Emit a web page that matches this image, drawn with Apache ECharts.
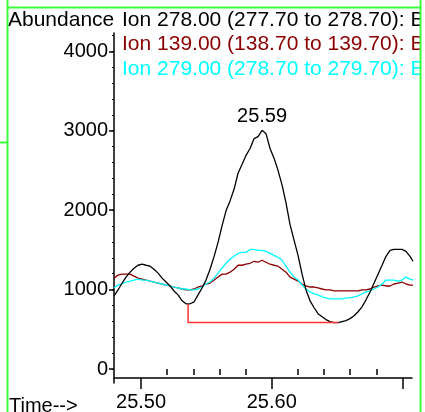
<!DOCTYPE html>
<html>
<head>
<meta charset="utf-8">
<script src="https://cdn.jsdelivr.net/npm/echarts@6/dist/echarts.min.js"></script>
<style>
html, body { margin: 0; padding: 0; background: #fff; }
#chart { width: 425px; height: 412px; }
</style>
</head>
<body>
<div id="chart"></div>
<script>
// retention time (min)
const times = [
	25.4793, 25.4824, 25.4855, 25.4885, 25.4916, 25.4946, 25.4977, 25.5008, 25.5038, 25.5069,
	25.5099, 25.5130, 25.5161, 25.5191, 25.5222, 25.5252, 25.5283, 25.5314, 25.5344, 25.5375,
	25.5406, 25.5436, 25.5467, 25.5497, 25.5528, 25.5559, 25.5589, 25.5620, 25.5650, 25.5681,
	25.5712, 25.5742, 25.5773, 25.5803, 25.5834, 25.5865, 25.5895, 25.5926, 25.5956, 25.5987,
	25.6018, 25.6048, 25.6079, 25.6109, 25.6140, 25.6171, 25.6201, 25.6232, 25.6262, 25.6293,
	25.6324, 25.6354, 25.6385, 25.6415, 25.6446, 25.6477, 25.6507, 25.6538, 25.6568, 25.6599,
	25.6630, 25.6660, 25.6691, 25.6721, 25.6752, 25.6783, 25.6813, 25.6844, 25.6874, 25.6905,
	25.6935, 25.6966, 25.6997, 25.7027, 25.7058, 25.7081,
]

// Ion 278.00
const ion278 = [
	921, 996, 1083, 1158, 1220, 1270, 1307, 1320, 1307, 1295,
	1257, 1208, 1145, 1096, 1046, 984, 934, 859, 822, 822,
	847, 934, 1021, 1121, 1257, 1419, 1594, 1805, 1992, 2117,
	2266, 2465, 2577, 2689, 2776, 2901, 2926, 3005, 2963, 2776,
	2652, 2502, 2316, 2092, 1818, 1619, 1432, 1195, 996, 859,
	772, 697, 660, 623, 598, 585, 585, 598, 610, 635,
	672, 722, 784, 872, 971, 1083, 1195, 1307, 1419, 1494,
	1506, 1506, 1506, 1482, 1419, 1357,
]

// Ion 139.00
const ion139 = [
	1145, 1183, 1195, 1195, 1195, 1170, 1145, 1133, 1121, 1108,
	1096, 1083, 1071, 1058, 1046, 1033, 1021, 1008, 996, 996,
	1008, 1033, 1046, 1071, 1083, 1121, 1158, 1195, 1195, 1220,
	1257, 1307, 1307, 1320, 1332, 1357, 1345, 1370, 1345, 1320,
	1307, 1295, 1257, 1220, 1158, 1133, 1108, 1071, 1046, 1033,
	1033, 1021, 1008, 996, 996, 984, 984, 984, 984, 984,
	984, 984, 996, 996, 1008, 1033, 1046, 1058, 1046, 1046,
	1071, 1083, 1096, 1071, 1058, 1058,
]

// Ion 279.00
const ion279 = [
	1021, 1058, 1071, 1096, 1108, 1121, 1133, 1121, 1121, 1108,
	1096, 1083, 1071, 1058, 1046, 1033, 1021, 1008, 1008, 996,
	996, 1008, 1033, 1071, 1096, 1145, 1208, 1270, 1332, 1382,
	1419, 1457, 1469, 1469, 1506, 1506, 1494, 1494, 1482, 1457,
	1432, 1407, 1370, 1295, 1220, 1158, 1121, 1058, 1008, 971,
	946, 934, 909, 896, 884, 884, 884, 884, 896, 896,
	909, 921, 946, 971, 984, 1008, 1033, 1071, 1121, 1121,
	1121, 1108, 1121, 1158, 1133, 1121,
]

// integration baseline under the peak
const baseTimes = [25.536, 25.536, 25.651]
const baseValues = [822, 585, 585]

const seriesNames = [
	"Ion 278.00 (277.70 to 278.70): B",
	"Ion 139.00 (138.70 to 139.70): B",
	"Ion 279.00 (278.70 to 279.70): B",
]

const xLabelTicks = [25.5, 25.6, 25.7]
const xMinorTicks = [25.52, 25.54, 25.56, 25.58, 25.62, 25.64, 25.66, 25.68]
const yLabelTicks = [0, 1000, 2000, 3000, 4000]
const yMinorTicks = [0, 200, 400, 600, 800, 1000, 1200, 1400, 1600, 1800, 2000, 2200, 2400, 2600, 2800, 3000, 3200, 3400, 3600, 3800, 4000, 4200]

const font = "Liberation Sans, Arial, sans-serif"
const green = "#3cff3c"
const colors = ["#000000", "#8b0000", "#00ffff"]

const pairs = (xs, ys) => xs.map((x, i) => [x, ys[i]])

// peak apex of the main ion
let peakIdx = 0
ion278.forEach((v, i) => {
	if (v > ion278[peakIdx]) peakIdx = i
})

const chart = echarts.init(document.getElementById("chart"), null, { renderer: "canvas" })

const axisBlack = { lineStyle: { color: "#000", width: 1.5 } }

chart.setOption({
	animation: false,
	backgroundColor: "#fff",
	grid: { left: 114, right: 13, top: 33, bottom: 25 },
	xAxis: [
		{
			type: "value",
			min: 25.4793,
			max: 25.7073,
			offset: -5,
			axisLine: { show: true, onZero: false, ...axisBlack },
			axisTick: { show: true, length: 11, customValues: xLabelTicks, ...axisBlack },
			axisLabel: {
				customValues: xLabelTicks.slice(0, 2),
				formatter: (v) => v.toFixed(2),
				color: "#000",
				fontFamily: font,
				fontSize: 20,
				margin: 14,
			},
			splitLine: { show: false },
		},
		{
			type: "value",
			min: 25.4793,
			max: 25.7073,
			offset: -5,
			position: "bottom",
			axisLine: { show: false },
			axisTick: { show: true, length: 6, customValues: xMinorTicks, ...axisBlack },
			axisLabel: { show: false },
			splitLine: { show: false },
		},
	],
	yAxis: [
		{
			type: "value",
			min: -175,
			max: 4230,
			axisLine: { show: true, onZero: false, ...axisBlack },
			axisTick: { show: true, length: 5, customValues: yLabelTicks, ...axisBlack },
			axisLabel: {
				customValues: yLabelTicks,
				formatter: (v) => String(v),
				color: "#000",
				fontFamily: font,
				fontSize: 20,
				margin: 6,
			},
			splitLine: { show: false },
		},
		{
			type: "value",
			min: -175,
			max: 4230,
			position: "left",
			axisLine: { show: false },
			axisTick: { show: true, length: 2, customValues: yMinorTicks, lineStyle: { color: "#000", width: 1 } },
			axisLabel: { show: false },
			splitLine: { show: false },
		},
	],
	series: [
		{
			name: seriesNames[1],
			type: "line",
			data: pairs(times, ion139),
			showSymbol: false,
			lineStyle: { color: colors[1], width: 1.3 },
			z: 2,
		},
		{
			name: seriesNames[2],
			type: "line",
			data: pairs(times, ion279),
			showSymbol: false,
			lineStyle: { color: colors[2], width: 1.3 },
			z: 3,
		},
		{
			name: seriesNames[0],
			type: "line",
			data: pairs(times, ion278),
			showSymbol: false,
			lineStyle: { color: colors[0], width: 1.3 },
			z: 4,
			markPoint: {
				symbol: "circle",
				symbolSize: 1,
				itemStyle: { color: "rgba(0,0,0,0)" },
				label: {
					show: true,
					position: "top",
					distance: 3,
					color: "#000",
					fontFamily: font,
					fontSize: 20,
					formatter: (p) => p.value,
				},
				data: [{ coord: [times[peakIdx], ion278[peakIdx]], value: times[peakIdx].toFixed(2) }],
			},
		},
		{
			name: "baseline",
			type: "line",
			data: pairs(baseTimes, baseValues),
			showSymbol: false,
			lineStyle: { color: "#ff3333", width: 1.5 },
			z: 5,
		},
	],
	graphic: [
		{ type: "text", left: 8, top: 10, style: { text: "Abundance", fill: "#000", font: `21px ${font}` } },
		{ type: "text", left: 122, top: 10, style: { text: seriesNames[0], fill: colors[0], font: `21px ${font}` } },
		{ type: "text", left: 122, top: 34, style: { text: seriesNames[1], fill: colors[1], font: `21px ${font}` } },
		{ type: "text", left: 122, top: 59, style: { text: seriesNames[2], fill: colors[2], font: `21px ${font}` } },
		{ type: "text", left: 9, top: 396, style: { text: "Time-->", fill: "#000", font: `20px ${font}` } },
		{ type: "rect", shape: { x: 421, y: 0, width: 4, height: 412 }, style: { fill: "#fff" }, z: 100 },
		{ type: "line", shape: { x1: 7.5, y1: 0, x2: 7.5, y2: 412 }, style: { stroke: green, lineWidth: 2 }, z: 101 },
		{ type: "line", shape: { x1: 420.5, y1: 0, x2: 420.5, y2: 412 }, style: { stroke: green, lineWidth: 2 }, z: 101 },
		{ type: "line", shape: { x1: 7, y1: 7.5, x2: 421, y2: 7.5 }, style: { stroke: green, lineWidth: 2 }, z: 101 },
		{ type: "line", shape: { x1: 0, y1: 142.5, x2: 8, y2: 142.5 }, style: { stroke: green, lineWidth: 2 }, z: 101 },
	],
})
</script>
</body>
</html>
